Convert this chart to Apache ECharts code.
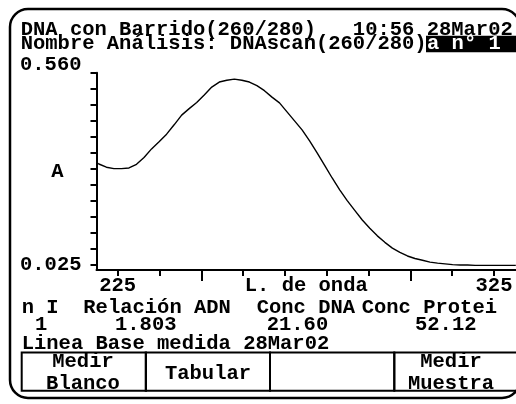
<!DOCTYPE html>
<html>
<head>
<meta charset="utf-8">
<title>DNA con Barrido</title>
<script src="https://cdn.jsdelivr.net/npm/echarts@6/dist/echarts.min.js"></script>
<style>
html,body{margin:0;padding:0;background:#fff;}
#chart{width:516px;height:404px;}
</style>
</head>
<body>
<div id="chart"></div>
<script>
var waveLengths = [219.4, 220, 222, 224, 226, 228, 230, 232, 234, 236, 238, 240, 242, 244, 246, 248,
  250, 252, 254, 256, 258, 260, 262, 264, 266, 268, 270, 272, 274, 276, 278, 280, 282, 284, 286, 288,
  290, 292, 294, 296, 298, 300, 302, 304, 306, 308, 310, 312, 314, 316, 318, 320, 322, 324, 326, 328,
  330, 330.8];
var absorbance = [0.310, 0.306, 0.297, 0.293, 0.293, 0.295, 0.305, 0.324, 0.348, 0.368, 0.389, 0.415,
  0.442, 0.460, 0.477, 0.498, 0.520, 0.534, 0.539, 0.542, 0.539, 0.534, 0.524, 0.510, 0.492, 0.476,
  0.451, 0.426, 0.401, 0.370, 0.337, 0.302, 0.267, 0.234, 0.204, 0.177, 0.150, 0.127, 0.106, 0.088,
  0.072, 0.060, 0.050, 0.043, 0.038, 0.033, 0.030, 0.028, 0.026, 0.025, 0.025, 0.024, 0.024, 0.024,
  0.024, 0.024, 0.024, 0.024];

// marcas de los ejes
var xTicks = [225, 236.11, 247.22, 258.33, 269.44, 280.56, 291.67, 302.78, 313.89, 325];
var xLongTicks = [247.22, 302.78];
var xLabels = [225, 325];
var yTicks = [0.025, 0.0696, 0.1142, 0.1588, 0.2033, 0.2479, 0.2925, 0.3371, 0.3817, 0.4263,
  0.4708, 0.5154, 0.560];
var yLabels = [0.025, 0.560];

// textos de la pantalla
var headerLine1 = 'DNA con Barrido(260/280)   10:56 28Mar02';
var headerLine2 = 'Nombre Análisis: DNAscan(260/280)';
var sampleTag = 'a n° 1';
var tableHeads = ['n I', 'Relación ADN', 'Conc DNA', 'Conc Protei'];
var tableValues = ['1', '1.803', '21.60', '52.12'];
var baseLineText = 'Linea Base medida 28Mar02';
var buttonLabels = [['Medir', 'Blanco'], ['Tabular'], [], ['Medir', 'Muestra']];

var FAMILY = '"Liberation Mono", "DejaVu Sans Mono", monospace';
var FONT = 'bold 20.5px ' + FAMILY;

var chart = echarts.init(document.getElementById('chart'));

//textos libres
function txt(s, x, y, align, fill){
  return {
    type: 'text', x: x, y: y, silent: true,
    style: {text: s, font: FONT, fill: fill || '#000', align: align || 'left', verticalAlign: 'middle'}
  };
}

function buildGraphic(){
  var g = [];
  //marco redondeado
  g.push({type: 'rect', silent: true, shape: {x: 10, y: 9, width: 510, height: 389, r: 18},
    style: {fill: 'none', stroke: '#000', lineWidth: 2.5}});
  g.push(txt(headerLine1, 20.7, 29.4));
  g.push(txt(headerLine2, 20.7, 44.2));
  g.push({type: 'rect', silent: true, shape: {x: 426, y: 35.7, width: 95, height: 16.6}, style: {fill: '#000'}});
  g.push(txt(sampleTag, 427, 44.2, 'left', '#fff'));

  var headX = [21.7, 83.3, 256.7, 361.7];
  var valX = [35, 115, 266.7, 415];
  tableHeads.forEach(function(s, i){ g.push(txt(s, headX[i], 307.5)); });
  tableValues.forEach(function(s, i){ g.push(txt(s, valX[i], 325)); });
  g.push(txt(baseLineText, 21.7, 344.2));

  //botones
  var cellX = [21.7, 145.7, 270, 394.3];
  var cellW = 124.3;
  var textX = [83, 208, 332, 451];
  cellX.forEach(function(x, i){
    g.push({type: 'rect', silent: true, shape: {x: x, y: 352.5, width: cellW, height: 38.3},
      style: {fill: 'none', stroke: '#000', lineWidth: 2}});
    var lines = buttonLabels[i];
    if (lines.length === 2) {
      g.push(txt(lines[0], textX[i], 362, 'center'));
      g.push(txt(lines[1], textX[i], 384, 'center'));
    } else if (lines.length === 1) {
      g.push(txt(lines[0], textX[i], 374, 'center'));
    }
  });
  return g;
}

var axisLineStyle = {color: '#000', width: 2};
var X_MIN = 219.37, X_MAX = 330.85;

var option = {
  animation: false,
  backgroundColor: '#fff',
  grid: {left: 96.5, top: 72.7, right: 0, bottom: 134},
  xAxis: [{
    type: 'value', min: X_MIN, max: X_MAX, position: 'bottom',
    name: 'L. de onda', nameLocation: 'middle', nameGap: 5, nameMoveOverlap: false,
    nameTextStyle: {fontFamily: FAMILY, fontWeight: 'bold', fontSize: 20.5, color: '#000', verticalAlign: 'top'},
    axisLine: {show: true, onZero: false, lineStyle: axisLineStyle},
    axisTick: {show: true, customValues: xTicks, length: 6, lineStyle: axisLineStyle},
    axisLabel: {customValues: xLabels, margin: 5, fontFamily: FAMILY, fontWeight: 'bold', fontSize: 20.5, color: '#000',
      formatter: function(v){ return String(Math.round(v)); }},
    splitLine: {show: false}
  }, {
    type: 'value', min: X_MIN, max: X_MAX, position: 'bottom',
    axisLine: {show: false, onZero: false},
    axisTick: {show: true, customValues: xLongTicks, length: 11, lineStyle: axisLineStyle},
    axisLabel: {show: false},
    splitLine: {show: false}
  }],
  yAxis: {
    type: 'value', min: 0.011, max: 0.560,
    name: 'A', nameLocation: 'middle', nameGap: 33, nameRotate: 0, nameMoveOverlap: false,
    nameTextStyle: {fontFamily: FAMILY, fontWeight: 'bold', fontSize: 20.5, color: '#000'},
    axisLine: {show: true, onZero: false, lineStyle: axisLineStyle},
    axisTick: {show: true, customValues: yTicks, length: 6, lineStyle: axisLineStyle},
    axisLabel: {customValues: yLabels, margin: 15, color: '#000',
      formatter: function(v){ return (v > 0.3 ? '{t|' : '{b|') + v.toFixed(3) + '}'; },
      rich: {
        t: {fontFamily: FAMILY, fontWeight: 'bold', fontSize: 20.5, color: '#000', padding: [0, 0, 16, 0]},
        b: {fontFamily: FAMILY, fontWeight: 'bold', fontSize: 20.5, color: '#000'}
      }},
    splitLine: {show: false}
  },
  series: [{
    type: 'line',
    xAxisIndex: 0,
    data: waveLengths.map(function(w, i){ return [w, absorbance[i]]; }),
    symbol: 'none',
    lineStyle: {color: '#000', width: 1.4},
    clip: true,
    silent: true
  }],
  graphic: buildGraphic()
};
chart.setOption(option);
</script>
</body>
</html>
